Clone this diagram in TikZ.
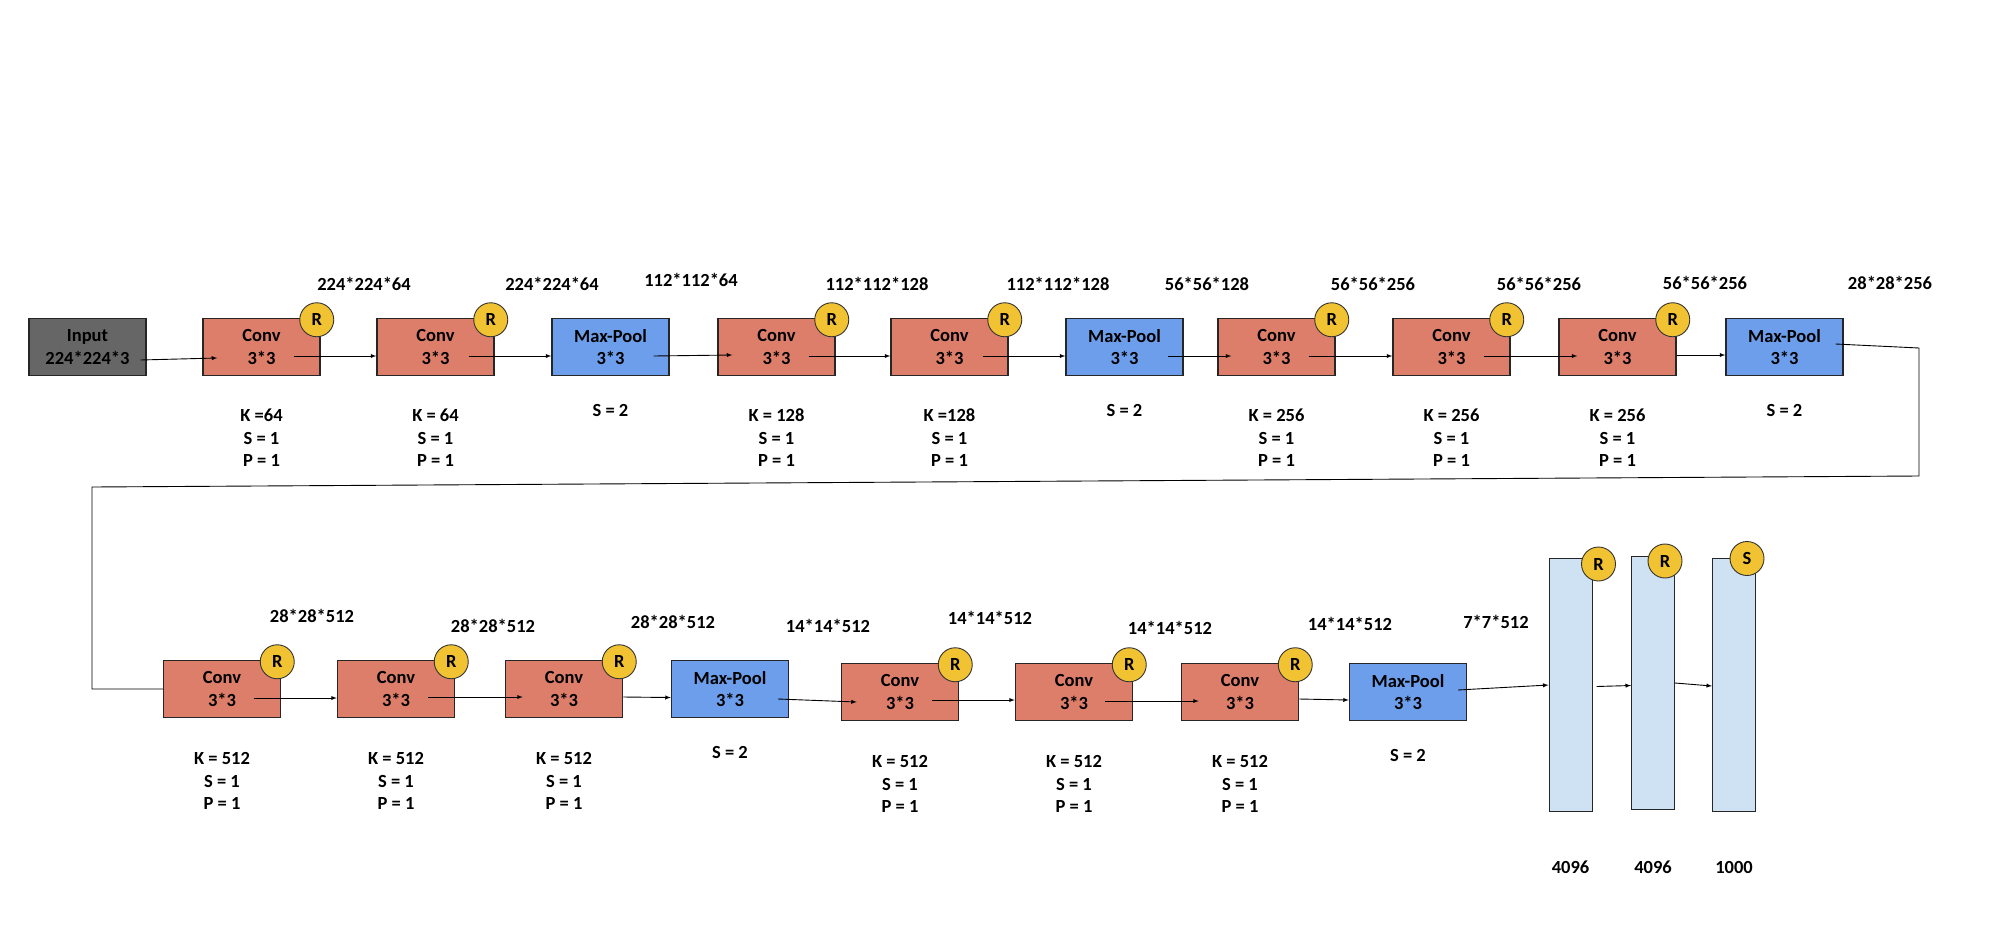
\documentclass[tikz,border=0pt]{standalone}
\usepackage{fontspec}
\setmainfont{Carlito}
\usepackage{tikz}
\usetikzlibrary{positioning,calc}
\usetikzlibrary{shapes.geometric, arrows}

\definecolor{convred}{HTML}{DD7E6B}
\definecolor{poolblue}{HTML}{6D9EEB}
\definecolor{inputgray}{HTML}{666666}
\definecolor{relugold}{HTML}{F1C232}
\definecolor{fcblue}{HTML}{CFE2F3}

\begin{document}
\begin{tikzpicture}[x=1pt, y=-1pt, on grid,
      every node/.style={font=\fontsize{18.5}{22.5}\selectfont\bfseries},
      layer/.style={draw=black!85, line width=1.5pt, minimum width=117pt,
        minimum height=57pt, inner sep=0pt, align=center},
      conv/.style={layer, fill=convred},
      pool/.style={layer, fill=poolblue},
      act/.style={circle, draw=black!80, line width=0.9pt, fill=relugold,
        minimum size=34pt, inner sep=0pt},
      fc/.style={draw=black!85, line width=1pt, fill=fcblue,
        minimum width=43pt, minimum height=253pt, inner sep=0pt},
      info/.style={align=center},
      link/.style={-latex, line width=0.9pt}
  ]
    \useasboundingbox (0,0) rectangle (2010,940);

    % first row
    \node[layer, fill=inputgray] (in_0) at (87.5,347) {Input\\224*224*3};
    \node[conv] (conv_1) [right=174pt of in_0] {Conv\\3*3};
    \node[conv] (conv_2) [right=174pt of conv_1] {Conv\\3*3};
    \node[pool] (pool_1) [right=175pt of conv_2] {Max-Pool\\3*3};
    \node[conv] (conv_3) [right=166pt of pool_1] {Conv\\3*3};
    \node[conv] (conv_4) [right=173pt of conv_3] {Conv\\3*3};
    \node[pool] (pool_2) [right=175pt of conv_4] {Max-Pool\\3*3};
    \node[conv] (conv_5) [right=152pt of pool_2] {Conv\\3*3};
    \node[conv] (conv_6) [right=175pt of conv_5] {Conv\\3*3};
    \node[conv] (conv_7) [right=166pt of conv_6] {Conv\\3*3};
    \node[pool] (pool_3) [right=167pt of conv_7] {Max-Pool\\3*3};

    % second row
    \node[conv] (conv_8) at (222,689) {Conv\\3*3};
    \node[conv] (conv_9) [right=174pt of conv_8] {Conv\\3*3};
    \node[conv] (conv_10) [right=168pt of conv_9] {Conv\\3*3};
    \node[pool] (pool_4) [right=166pt of conv_10] {Max-Pool\\3*3};
    \node[conv] (conv_11) [right=170pt of pool_4, yshift=-3pt] {Conv\\3*3};
    \node[conv] (conv_12) [right=174pt of conv_11] {Conv\\3*3};
    \node[conv] (conv_13) [right=166pt of conv_12] {Conv\\3*3};
    \node[pool] (pool_5) [right=168pt of conv_13] {Max-Pool\\3*3};
    \node[fc] (fc_1) [right=162.5pt of pool_5, yshift=7pt] {};
    \node[fc] (fc_2) [right=82.5pt of fc_1, yshift=2pt] {};
    \node[fc] (fc_3) [right=81pt of fc_2, yshift=-1.5pt] {};

    % activations
    \foreach \n in {1,...,13}
      \node[act] (r_\n) at ([xshift=-4pt,yshift=-2pt]conv_\n.north east) {R};
    \node[act] (r_fc1) at ([xshift=6pt,yshift=-6pt]fc_1.north east) {R};
    \node[act] (r_fc2) at ([xshift=-10pt,yshift=-5pt]fc_2.north east) {R};
    \node[act] (s_fc3) at ([xshift=-9pt,yshift=-1pt]fc_3.north east) {S};

    % sizes
    \node (d_1) at (364,284) {224*224*64};
    \node (d_2) at (552,284) {224*224*64};
    \node (d_3) at (691,280) {112*112*64};
    \node (d_4) at (877,284) {112*112*128};
    \node (d_5) at (1058,284) {112*112*128};
    \node (d_6) at (1207,284) {56*56*128};
    \node (d_7) at (1373,284) {56*56*256};
    \node (d_8) at (1539,284) {56*56*256};
    \node (d_9) at (1705,283) {56*56*256};
    \node (d_10) at (1890,283) {28*28*256};
    \node (d_11) at (312,616) {28*28*512};
    \node (d_12) at (493,626) {28*28*512};
    \node (d_13) at (673,622) {28*28*512};
    \node (d_14) at (828,626) {14*14*512};
    \node (d_15) at (990,618) {14*14*512};
    \node (d_16) at (1170,628) {14*14*512};
    \node (d_17) at (1350,624) {14*14*512};
    \node (d_18) at (1496,622) {7*7*512};

    % parameters
    \node[info, below=91pt of conv_1] (k_1) {K =64\\S = 1\\P = 1};
    \node[info, below=91pt of conv_2] (k_2) {K = 64\\S = 1\\P = 1};
    \node[info, below=63pt of pool_1] (s_1) {S = 2};
    \node[info, below=91pt of conv_3] (k_3) {K = 128\\S = 1\\P = 1};
    \node[info, below=91pt of conv_4] (k_4) {K =128\\S = 1\\P = 1};
    \node[info, below=63pt of pool_2] (s_2) {S = 2};
    \node[info, below=91pt of conv_5] (k_5) {K = 256\\S = 1\\P = 1};
    \node[info, below=91pt of conv_6] (k_6) {K = 256\\S = 1\\P = 1};
    \node[info, below=91pt of conv_7] (k_7) {K = 256\\S = 1\\P = 1};
    \node[info, below=63pt of pool_3] (s_3) {S = 2};
    \foreach \n in {8,...,13}
      \node[info, below=92pt of conv_\n] (k_\n) {K = 512\\S = 1\\P = 1};
    \node[info, below=63.5pt of pool_4] (s_4) {S = 2};
    \node[info, below=63pt of pool_5] (s_5) {S = 2};
    \node[below=182.5pt of fc_1] (u_1) {4096};
    \node[below=184.5pt of fc_2] (u_2) {4096};
    \node[below=183pt of fc_3] (u_3) {1000};

    % first row links
    \draw[link] ([xshift=53pt,yshift=-13pt]in_0.center) -- ([xshift=15pt,yshift=-11pt]conv_1.west);
    \draw[link] ([xshift=32pt,yshift=-9pt]conv_1.center) -- ([yshift=-9pt]conv_2.west);
    \draw[link] ([xshift=33pt,yshift=-9pt]conv_2.center) -- ([yshift=-9pt]pool_1.west);
    \draw[link] ([xshift=43pt,yshift=-9pt]pool_1.center) -- ([xshift=15pt,yshift=-8pt]conv_3.west);
    \draw[link] ([xshift=32pt,yshift=-9pt]conv_3.center) -- ([yshift=-9pt]conv_4.west);
    \draw[link] ([xshift=33pt,yshift=-9pt]conv_4.center) -- ([yshift=-9pt]pool_2.west);
    \draw[link] ([xshift=43pt,yshift=-9pt]pool_2.center) -- ([xshift=14pt,yshift=-9pt]conv_5.west);
    \draw[link] ([xshift=32pt,yshift=-9pt]conv_5.center) -- ([yshift=-9pt]conv_6.west);
    \draw[link] ([xshift=32pt,yshift=-9pt]conv_6.center) -- ([xshift=19pt,yshift=-9pt]conv_7.west);
    \draw[link] ([yshift=-8pt]conv_7.east) -- ([yshift=-8pt]pool_3.west);

    % wrap to second row
    \coordinate (turn_1) at (1919,348);
    \coordinate (turn_2) at (1919,476);
    \coordinate (turn_3) at (92,487);
    \coordinate (turn_4) at (92,689);
    \draw[line width=0.9pt] ([xshift=51pt,yshift=3pt]pool_3.center) -- (turn_1) -- (turn_2)
      -- (turn_3) -- (turn_4) -- (conv_8.west);

    % second row links
    \draw[link] ([xshift=32pt,yshift=-9pt]conv_8.center) -- ([yshift=-9pt]conv_9.west);
    \draw[link] ([xshift=32pt,yshift=-8pt]conv_9.center) -- ([xshift=18pt,yshift=-8pt]conv_10.west);
    \draw[link] ([yshift=-8pt]conv_10.east) -- ([yshift=-8.5pt]pool_4.west);
    \draw[link] ([xshift=48pt,yshift=-10pt]pool_4.center) -- ([xshift=16pt,yshift=-10pt]conv_11.west);
    \draw[link] ([xshift=32pt,yshift=-8pt]conv_11.center) -- ([yshift=-8pt]conv_12.west);
    \draw[link] ([xshift=31pt,yshift=-9pt]conv_12.center) -- ([xshift=18pt,yshift=-9pt]conv_13.west);
    \draw[link] ([yshift=-7pt]conv_13.east) -- ([yshift=-8pt]pool_5.west);
    \draw[link] ([xshift=50pt,yshift=2pt]pool_5.center) -- (fc_1.west);
    \draw[link] ([xshift=4pt,yshift=-1.5pt]fc_1.east) -- ([yshift=-2.5pt]fc_2.west);
    \draw[link] (fc_2.east) -- ([yshift=-1.5pt]fc_3.west);
\end{tikzpicture}
\end{document}
